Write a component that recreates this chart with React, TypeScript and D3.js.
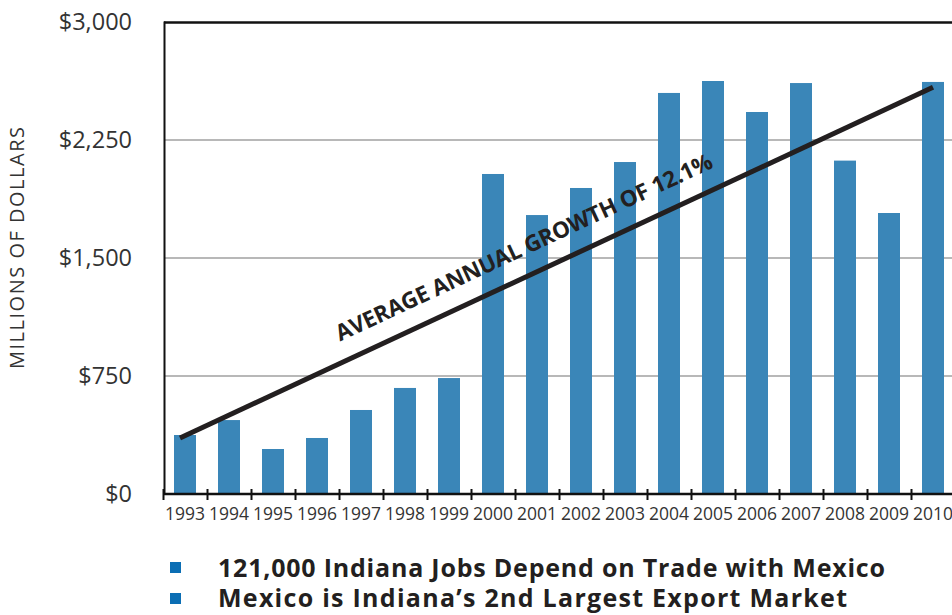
import React from "react";
import * as d3 from "d3";

const years = ["1993","1994","1995","1996","1997","1998","1999","2000","2001","2002","2003","2004","2005","2006","2007","2008","2009","2010"];
const exportsMillions = [375,470,286,356,534,674,737,2034,1773,1945,2110,2549,2625,2428,2612,2119,1786,2619];
const yTicks = [0,750,1500,2250,3000];
const gridTicks = [750,1500,2250];
const trendStart = { year: "1993", value: 356 };
const trendEnd = { year: "2010", value: 2585 };
const trendLabel = "AVERAGE ANNUAL GROWTH OF 12.1%";
const yTitle = "MILLIONS OF DOLLARS";
const bullets = ["121,000 Indiana Jobs Depend on Trade with Mexico", "Mexico is Indiana\u2019s 2nd Largest Export Market"];

const W = 952, H = 615;
const FONT = "'Open Sans', 'Noto Sans', sans-serif";
const TEXT = "#231f20";
const BAR = "#3a86b8";

export default function App() {
  const x = d3.scaleBand<string>().domain(years).range([163, 955]).paddingInner(0.5).paddingOuter(0.25);
  const y = d3.scaleLinear().domain([0, 3000]).range([494, 22]);
  const step = x.step();
  const bw = x.bandwidth();
  const fmt = (v: number) => "$" + d3.format(",")(v);

  const x1 = (x(trendStart.year) as number) + bw / 2 - 5;
  const x2 = (x(trendEnd.year) as number) + bw / 2;
  const y1 = y(trendStart.value);
  const y2 = y(trendEnd.value);
  const ang = (Math.atan2(y2 - y1, x2 - x1) * 180) / Math.PI;
  const t = 0.2126;
  const tx = x1 + (x2 - x1) * t;
  const ty = y1 + (y2 - y1) * t - 22;

  return (
    <svg width={W} height={H} style={{ position: "absolute", left: 0, top: 0, background: "#fff" }} fontFamily={FONT}>
      {gridTicks.map((v) => (
        <line key={v} x1={164} x2={W} y1={y(v)} y2={y(v)} stroke="#b8b8b8" strokeWidth={2} />
      ))}
      {years.map((yr, i) => (
        <rect key={yr} x={x(yr)} y={y(exportsMillions[i])} width={bw} height={y(0) - y(exportsMillions[i])} fill={BAR} />
      ))}
      <line x1={164} x2={W} y1={22.5} y2={22.5} stroke="#111" strokeWidth={2.5} />
      <line x1={164.5} x2={164.5} y1={21.5} y2={495} stroke="#111" strokeWidth={2} />
      <line x1={163.5} x2={W} y1={494} y2={494} stroke="#111" strokeWidth={2.5} />
      {years.map((yr) => (
        <line key={"t" + yr} x1={(x(yr) as number) - step / 4 + 0.5} x2={(x(yr) as number) - step / 4 + 0.5} y1={489} y2={500} stroke="#111" strokeWidth={2} />
      ))}
      {years.map((yr) => (
        <text key={"l" + yr} x={(x(yr) as number) + bw / 2} y={520} textAnchor="middle" fontSize={18} fill="#333" textLength={40} lengthAdjust="spacingAndGlyphs">{yr}</text>
      ))}
      {yTicks.map((v) => (
        <text key={"y" + v} x={132} y={y(v) + 7.5} textAnchor="end" fontSize={23.5} fill="#333">{fmt(v)}</text>
      ))}
      <text transform="translate(24,248) rotate(-90)" textAnchor="middle" fontSize={20} fill="#333" textLength={242} lengthAdjust="spacing">{yTitle}</text>
      <line x1={x1} y1={y1} x2={x2} y2={y2} stroke={TEXT} strokeWidth={5} />
      <text transform={`translate(${tx},${ty}) rotate(${ang})`} fontSize={22.5} fontWeight={700} fill={TEXT} textLength={413} lengthAdjust="spacing">{trendLabel}</text>
      {bullets.map((b, i) => (
        <g key={b}>
          <rect x={170} y={562 + i * 31} width={11} height={11} fill="#0b6eb4" />
          <text x={218} y={576.5 + i * 30} fontSize={25} fontWeight={700} fill={TEXT} textLength={i === 0 ? 667 : 629} lengthAdjust="spacing">{b}</text>
        </g>
      ))}
    </svg>
  );
}
